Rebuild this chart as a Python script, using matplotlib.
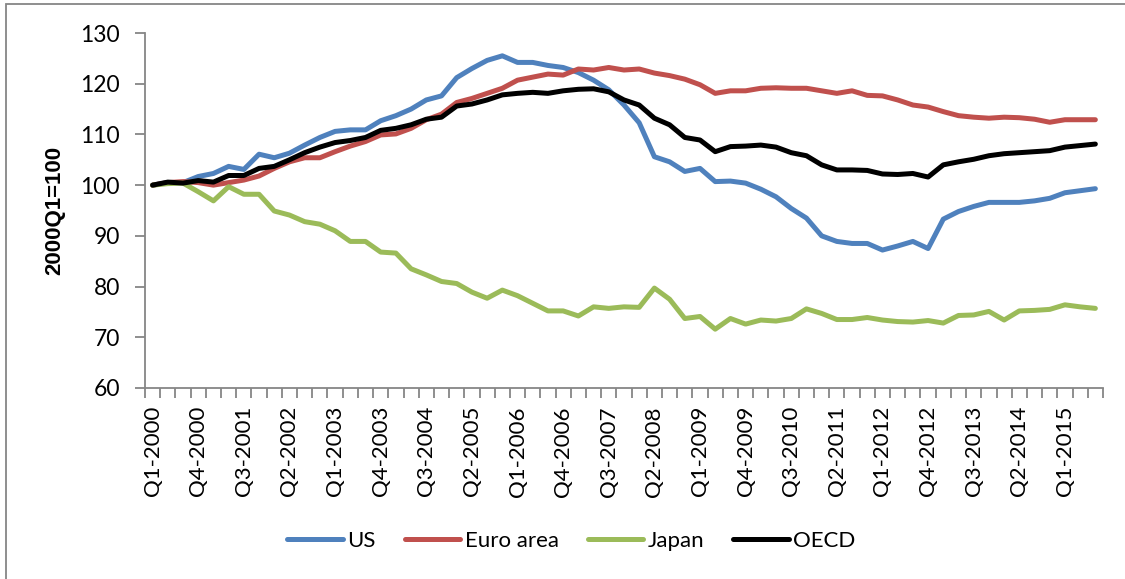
import matplotlib
matplotlib.use("Agg")
import matplotlib.pyplot as plt
from matplotlib.patches import Rectangle
import numpy as np

plt.rcParams['font.family'] = ['Lato', 'DejaVu Sans']

# quarterly index, 2000Q1 = 100 (Q1-2000 .. Q3-2015)
quarters = [f"Q{q}-{y}" for y in range(2000, 2016) for q in range(1, 5)][:63]

us = [100.0, 100.5, 100.5, 101.7, 102.3, 103.7, 103.1, 106.1, 105.4, 106.3, 107.9, 109.4, 110.6, 110.9, 110.9, 112.7,
      113.7, 115.0, 116.8, 117.6, 121.2, 123.0, 124.6, 125.5, 124.2, 124.2, 123.6, 123.2, 122.2, 120.7, 118.8, 115.8,
      112.3, 105.6, 104.6, 102.7, 103.3, 100.7, 100.8, 100.4, 99.2, 97.7, 95.4, 93.5, 90.0, 88.9, 88.5, 88.5,
      87.2, 88.0, 88.9, 87.5, 93.3, 94.8, 95.8, 96.6, 96.6, 96.6, 96.9, 97.4, 98.5, 98.9, 99.3]

euro = [100.0, 100.5, 100.7, 100.5, 100.0, 100.5, 101.0, 101.8, 103.3, 104.6, 105.4, 105.4, 106.6, 107.7, 108.6, 109.9,
        110.1, 111.2, 112.9, 114.0, 116.3, 117.1, 118.1, 119.1, 120.7, 121.3, 121.9, 121.7, 122.9, 122.7, 123.2, 122.7,
        122.9, 122.1, 121.6, 120.9, 119.8, 118.1, 118.6, 118.6, 119.1, 119.2, 119.1, 119.1, 118.6, 118.1, 118.6, 117.7,
        117.6, 116.8, 115.8, 115.4, 114.5, 113.7, 113.4, 113.2, 113.4, 113.3, 113.0, 112.4, 112.9, 112.9, 112.9]

japan = [100.0, 100.3, 100.4, 98.7, 96.9, 99.7, 98.2, 98.2, 94.9, 94.1, 92.8, 92.3, 91.0, 88.9, 88.9, 86.8,
         86.6, 83.5, 82.3, 81.0, 80.6, 78.9, 77.7, 79.3, 78.2, 76.7, 75.2, 75.2, 74.2, 76.0, 75.7, 76.0,
         75.9, 79.7, 77.5, 73.7, 74.1, 71.6, 73.7, 72.6, 73.4, 73.2, 73.7, 75.6, 74.7, 73.5, 73.5, 73.9,
         73.4, 73.1, 73.0, 73.3, 72.8, 74.3, 74.4, 75.1, 73.4, 75.2, 75.3, 75.5, 76.4, 76.0, 75.7]

oecd = [100.0, 100.6, 100.4, 100.9, 100.6, 101.9, 101.9, 103.3, 103.7, 105.0, 106.4, 107.5, 108.4, 108.8, 109.4, 110.8,
        111.2, 111.9, 113.0, 113.4, 115.6, 116.0, 116.8, 117.8, 118.1, 118.3, 118.1, 118.6, 118.9, 119.0, 118.4, 116.8,
        115.8, 113.2, 111.9, 109.4, 108.9, 106.6, 107.6, 107.7, 107.9, 107.5, 106.4, 105.8, 104.0, 103.0, 103.0, 102.9,
        102.2, 102.1, 102.3, 101.6, 104.0, 104.6, 105.1, 105.8, 106.2, 106.4, 106.6, 106.8, 107.5, 107.8, 108.1]

grey = '#868686'
fig = plt.figure(figsize=(11.25, 5.79), dpi=100)
ax = fig.add_axes([0.1289, 0.3299, 0.8515, 0.6131])

x = np.arange(len(quarters))
series = [(us, 'US', '#4F81BD'), (euro, 'Euro area', '#C0504D'),
          (japan, 'Japan', '#9BBB59'), (oecd, 'OECD', '#000000')]
for vals, name, col in series:
    ax.plot(x, vals, color=col, lw=3.6, label=name,
            solid_joinstyle='round', solid_capstyle='round')

ax.set_xlim(-0.5, len(quarters) - 0.5)
ax.set_ylim(60, 130)
ax.set_yticks(np.arange(60, 131, 10))

# tick marks on category boundaries, labels every third quarter
ax.set_xticks(np.arange(-0.5, len(quarters), 1))
ax.set_xticklabels([])
ax.set_xticks(x[::3], minor=True)
ax.set_xticklabels(quarters[::3], minor=True, rotation=90, fontsize=16)
ax.tick_params(axis='x', which='major', length=7, width=1.3, color=grey, direction='out')
ax.tick_params(axis='x', which='minor', length=0, pad=13)
ax.tick_params(axis='y', length=7, width=1.3, color=grey, labelsize=16.5, pad=11)

for s in ['top', 'right']:
    ax.spines[s].set_visible(False)
for s in ['left', 'bottom']:
    ax.spines[s].set_color(grey)
    ax.spines[s].set_linewidth(1.3)

ax.set_ylabel('2000Q1=100', fontsize=16, fontweight='bold', family='Liberation Sans')
ax.yaxis.set_label_coords(-0.083, 0.5)

fig.legend(loc='center', bbox_to_anchor=(0.508, 0.066), ncol=4, frameon=False,
           fontsize=16, handlelength=2.5, handletextpad=0.2, columnspacing=1.3)

# outer chart border
fig.patches.append(Rectangle((6 / 1125, -0.05), 1.2, 1.05 - 4 / 579, transform=fig.transFigure,
                             fill=False, edgecolor=grey, lw=1.3))

fig.savefig('out.png', dpi=100)
